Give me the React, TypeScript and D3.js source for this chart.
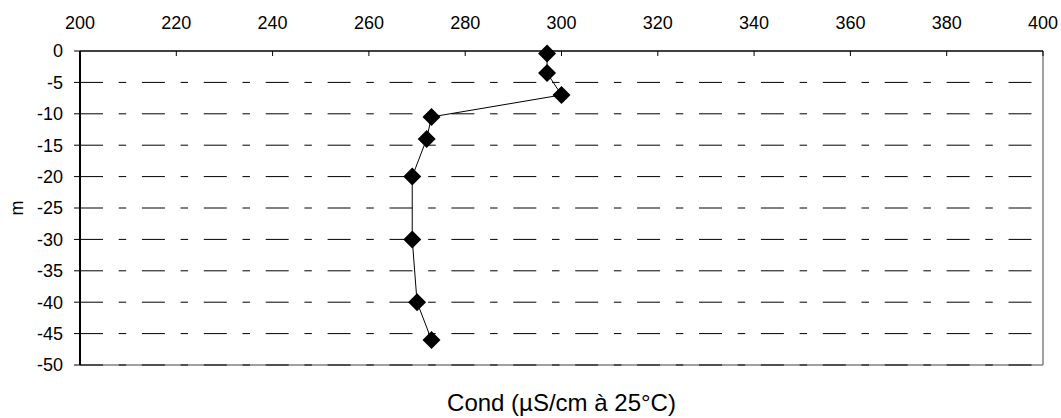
import React from "react";
import * as d3 from "d3";

// profile readings: conductivity vs depth
const depths = [-0.4, -3.5, -7, -10.5, -14, -20, -30, -40, -46];
const cond = [297, 297, 300, 273, 272, 269, 269, 270, 273];
const xTicks = [200, 220, 240, 260, 280, 300, 320, 340, 360, 380, 400];
const yTicks = [0, -5, -10, -15, -20, -25, -30, -35, -40, -45, -50];

const W = 1061;
const H = 418;
const margin = { top: 51, right: 18, bottom: 53, left: 80 };
const font = "'Liberation Sans', Arial, sans-serif";

export default function App() {
  const x = d3.scaleLinear().domain([200, 400]).range([margin.left, W - margin.right]);
  const y = d3.scaleLinear().domain([0, -50]).range([margin.top, H - margin.bottom]);

  const pts = depths.map((d, i) => ({ d, v: cond[i] }));
  const line = d3.line<{ d: number; v: number }>()
    .x((p) => x(p.v))
    .y((p) => y(p.d));

  const x0 = x(200);
  const x1 = x(400);
  const y0 = y(0);
  const y1 = y(-50);

  return (
    <svg width={W} height={H} style={{ position: "absolute", left: 0, top: 0, background: "#fff" }}>
      {/* frame: right + bottom gray */}
      <line x1={x1} x2={x1} y1={y0} y2={y1} stroke="#808080" strokeWidth={1.5} />
      <line x1={x0} x2={x1} y1={y1} y2={y1} stroke="#808080" strokeWidth={1.5} />

      {/* dashed gridlines */}
      {yTicks.slice(1).map((t) => (
        <line
          key={"g" + t}
          x1={x0}
          x2={x1}
          y1={y(t)}
          y2={y(t)}
          stroke="#000"
          strokeWidth={1}
          strokeDasharray="23 15.7 7.5 15.7"
        />
      ))}

      {/* top axis */}
      <line x1={x0} x2={x1} y1={y0} y2={y0} stroke="#000" strokeWidth={1.5} />
      {xTicks.map((t) => (
        <g key={"x" + t}>
          <line x1={x(t)} x2={x(t)} y1={y0} y2={y0 + 5} stroke="#000" strokeWidth={1} />
          <text x={x(t)} y={28.5} textAnchor="middle" fontFamily={font} fontSize={18} fill="#000">
            {t}
          </text>
        </g>
      ))}

      {/* left axis */}
      <line x1={x0} x2={x0} y1={y0} y2={y1} stroke="#000" strokeWidth={2} />
      {yTicks.map((t) => (
        <g key={"y" + t}>
          <line x1={x0 - 6} x2={x0} y1={y(t)} y2={y(t)} stroke="#000" strokeWidth={1} />
          <text x={63} y={y(t)} dy="0.35em" textAnchor="end" fontFamily={font} fontSize={18} fill="#000">
            {t}
          </text>
        </g>
      ))}

      {/* series */}
      <path d={line(pts) || ""} fill="none" stroke="#000" strokeWidth={1} />
      {pts.map((p, i) => (
        <path
          key={"p" + i}
          transform={`translate(${x(p.v)},${y(p.d)})`}
          d="M0,-9L9,0L0,9L-9,0Z"
          fill="#000"
        />
      ))}

      {/* axis titles */}
      <text
        transform={`translate(23,208) rotate(-90)`}
        textAnchor="middle"
        fontFamily={font}
        fontSize={18}
        fill="#000"
      >
        m
      </text>
      <text x={(x0 + x1) / 2} y={411} textAnchor="middle" fontFamily={font} fontSize={24} fill="#000">
        Cond (µS/cm à 25°C)
      </text>
    </svg>
  );
}
